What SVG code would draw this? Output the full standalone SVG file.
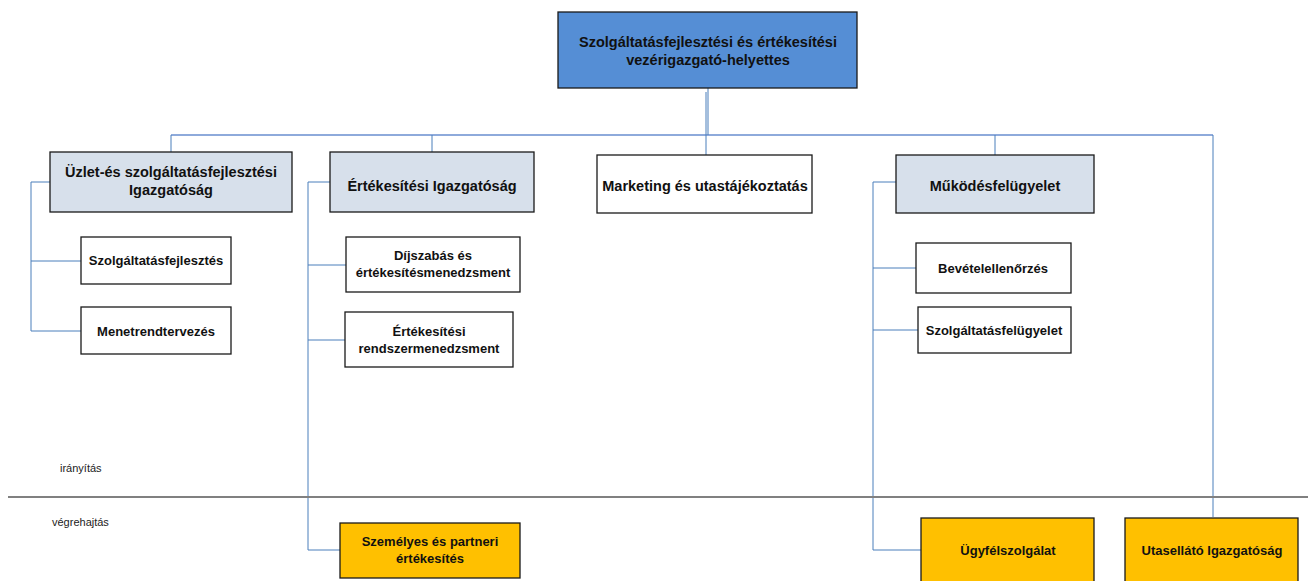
<svg xmlns="http://www.w3.org/2000/svg" width="1308" height="581" viewBox="0 0 1308 581">
<style>
.box{stroke:#1a1a1a;stroke-width:1.3}
.top{fill:#558ed5}
.lt{fill:#d7e0eb}
.wh{fill:#ffffff}
.or{fill:#ffc000}
.t{font-family:"Liberation Sans",Arial,sans-serif;font-weight:bold;fill:#111;text-anchor:middle}
.t13{font-size:14.5px}
.t11{font-size:13px}
.lbl{font-family:"Liberation Sans",Arial,sans-serif;font-size:11px;fill:#222}
.c{fill:none;stroke:#4a7ebb;stroke-width:1}
.bus{fill:none;stroke:#8eaadb;stroke-width:2}
</style>
<rect width="1308" height="581" fill="#ffffff"/>
<g id="connectors">
<path class="bus" d="M171,135 H1213"/>
<path class="c" d="M708,88 V135 M706,92 V155"/>
<path class="c" d="M171,135 V152 M432,135 V152 M995,135 V155 M1213,135 V517"/>
<path class="c" d="M50,182 H31 V331 H81 M31,261 H81"/>
<path class="c" d="M330,182 H308 V550 H340 M308,265 H346 M308,340 H345"/>
<path class="c" d="M896,182 H873 V550 H921 M873,268 H916 M873,330 H918"/>
</g>
<line x1="8" y1="497" x2="1308" y2="497" stroke="#808080" stroke-width="2"/>
<text class="lbl" x="60" y="472">irányítás</text>
<text class="lbl" x="52" y="526">végrehajtás</text>
<g id="n-vezer">
<rect class="box top" x="558" y="12" width="299" height="76"/>
<text class="t t13" x="708" y="47">Szolgáltatásfejlesztési és értékesítési</text>
<text class="t t13" x="708" y="65">vezérigazgató-helyettes</text>
</g>
<g id="n-uzlet">
<rect class="box lt" x="50" y="152" width="242" height="60"/>
<text class="t t13" x="171" y="177">Üzlet-és szolgáltatásfejlesztési</text>
<text class="t t13" x="171" y="195">Igazgatóság</text>
</g>
<g id="n-ertekesitesi">
<rect class="box lt" x="330" y="152" width="204" height="60"/>
<text class="t t13" x="432" y="191">Értékesítési Igazgatóság</text>
</g>
<g id="n-marketing">
<rect class="box wh" x="597" y="155" width="215" height="58"/>
<text class="t t13" x="705" y="191">Marketing és utastájékoztatás</text>
</g>
<g id="n-mukodes">
<rect class="box lt" x="896" y="155" width="198" height="58"/>
<text class="t t13" x="995" y="191">Működésfelügyelet</text>
</g>
<g id="n-szolgfejl">
<rect class="box wh" x="81" y="237" width="150" height="47"/>
<text class="t t11" x="156" y="265">Szolgáltatásfejlesztés</text>
</g>
<g id="n-menetrend">
<rect class="box wh" x="81" y="307" width="150" height="47"/>
<text class="t t11" x="156" y="336">Menetrendtervezés</text>
</g>
<g id="n-dijszabas">
<rect class="box wh" x="346" y="237" width="174" height="55"/>
<text class="t t11" x="433" y="260">Díjszabás és</text>
<text class="t t11" x="433" y="277">értékesítésmenedzsment</text>
</g>
<g id="n-rendszer">
<rect class="box wh" x="345" y="312" width="168" height="55"/>
<text class="t t11" x="429" y="336">Értékesítési</text>
<text class="t t11" x="429" y="353">rendszermenedzsment</text>
</g>
<g id="n-bevetel">
<rect class="box wh" x="916" y="243" width="155" height="50"/>
<text class="t t11" x="993" y="273">Bevételellenőrzés</text>
</g>
<g id="n-szolgfel">
<rect class="box wh" x="918" y="307" width="153" height="46"/>
<text class="t t11" x="994" y="335">Szolgáltatásfelügyelet</text>
</g>
<g id="n-szemelyes">
<rect class="box or" x="340" y="523" width="180" height="55"/>
<text class="t t11" x="430" y="546">Személyes  és partneri</text>
<text class="t t11" x="430" y="563">értékesítés</text>
</g>
<g id="n-ugyfel">
<rect class="box or" x="921" y="518" width="173" height="64"/>
<text class="t t11" x="1008" y="555">Ügyfélszolgálat</text>
</g>
<g id="n-utasellato">
<rect class="box or" x="1125" y="518" width="173" height="64"/>
<text class="t t11" x="1212" y="555">Utasellátó Igazgatóság</text>
</g>
</svg>
